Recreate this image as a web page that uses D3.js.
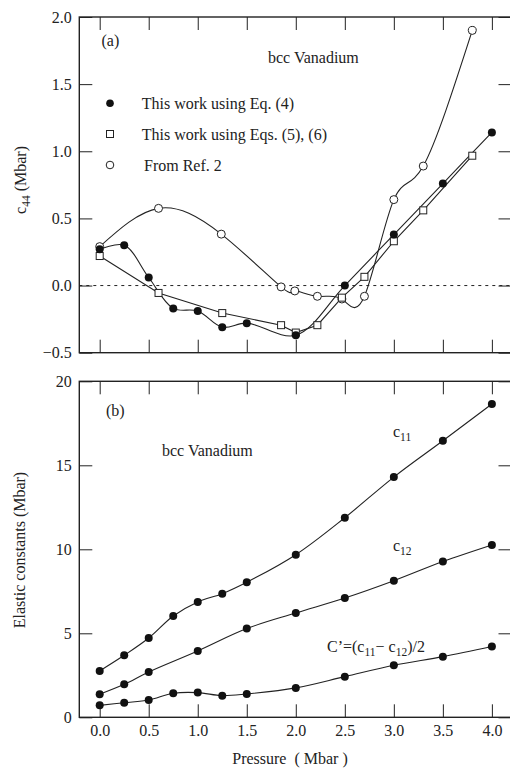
<!DOCTYPE html>
<html>
<head>
<meta charset="utf-8">
<script src="https://cdn.jsdelivr.net/npm/d3@7"></script>
<style>
  body { margin:0; background:#fff; }
  text { font-family:"Liberation Serif","Times New Roman",serif; fill:#222; }
</style>
</head>
<body>
<svg id="chart"></svg>
<script>
/*************** data *****************/
// panel (a): c44 versus pressure
var pEq4   = [0, 0.25, 0.5, 0.75, 1.0, 1.25, 1.5, 2.0, 2.5, 3.0, 3.5, 4.0];
var c44Eq4 = [0.27, 0.30, 0.06, -0.17, -0.19, -0.31, -0.28, -0.37, 0.0, 0.38, 0.76, 1.14];

var pEq56   = [0, 0.6, 1.25, 1.85, 2.0, 2.22, 2.47, 2.70, 3.0, 3.30, 3.80];
var c44Eq56 = [0.22, -0.055, -0.205, -0.295, -0.35, -0.295, -0.09, 0.065, 0.33, 0.56, 0.967];

var pRef2   = [0, 0.6, 1.24, 1.85, 1.99, 2.22, 2.47, 2.70, 3.0, 3.30, 3.80];
var c44Ref2 = [0.29, 0.575, 0.383, -0.01, -0.04, -0.08, -0.10, -0.08, 0.64, 0.89, 1.90];

var legendLabels = ["This work using Eq. (4)", "This work using Eqs. (5), (6)", "From Ref. 2"];

// panel (b): elastic constants versus pressure
var pB     = [0, 0.25, 0.5, 0.75, 1.0, 1.25, 1.5, 2.0, 2.5, 3.0, 3.5, 4.0];
var c11    = [2.76, 3.69, 4.72, 6.03, 6.87, 7.36, 8.04, 9.68, 11.88, 14.3, 16.46, 18.65];
var pC12   = [0, 0.25, 0.5, 1.0, 1.5, 2.0, 2.5, 3.0, 3.5, 4.0];
var c12    = [1.37, 1.96, 2.70, 3.95, 5.28, 6.21, 7.10, 8.13, 9.27, 10.26];
var cPrime = [0.71, 0.87, 1.03, 1.43, 1.47, 1.29, 1.39, 1.75, 2.42, 3.10, 3.61, 4.21];

var xTicks  = [0, 0.5, 1.0, 1.5, 2.0, 2.5, 3.0, 3.5, 4.0];
var yTicksA = [-0.5, 0, 0.5, 1.0, 1.5, 2.0];
var yTicksB = [0, 5, 10, 15, 20];

/*************** settings *****************/
var width = 510, height = 769,
    left = 79.3, right = 511.5,
    topA = 17, bottomA = 352.7,
    topB = 381.3, bottomB = 717.3,
    tickLen = 13;

var svg = d3.select("#chart").attr("width", width).attr("height", height);

var x = d3.scaleLinear().domain([-0.208, 4.2]).range([left, right]);
var yA = d3.scaleLinear().domain([-0.5, 2.0]).range([bottomA, topA]);
var yB = d3.scaleLinear().domain([0, 20]).range([bottomB, topB]);

function zip(xs, ys) { return xs.map(function(d, i) { return [d, ys[i]]; }); }

/*************** frames and axes *****************/
function frame(y, y0, y1, yTicks, yFmt, showX) {
  var g = svg.append("g");
  g.append("rect")
    .attr("x", left).attr("y", y1)
    .attr("width", right - left).attr("height", y0 - y1)
    .attr("fill", "none").attr("stroke", "#222").attr("stroke-width", 1.4);

  g.append("g").attr("transform", "translate(0," + y0 + ")")
    .call(d3.axisBottom(x).tickValues(xTicks).tickSizeInner(-tickLen).tickSizeOuter(0)
      .tickPadding(7).tickFormat(showX ? d3.format(".1f") : ""));
  g.append("g").attr("transform", "translate(0," + y1 + ")")
    .call(d3.axisTop(x).tickValues(xTicks).tickSizeInner(-tickLen).tickSizeOuter(0).tickFormat(""));
  g.append("g").attr("transform", "translate(" + left + ",0)")
    .call(d3.axisLeft(y).tickValues(yTicks).tickSizeInner(-tickLen).tickSizeOuter(0)
      .tickPadding(7.5).tickFormat(yFmt));
  g.append("g").attr("transform", "translate(" + right + ",0)")
    .call(d3.axisRight(y).tickValues(yTicks).tickSizeInner(-tickLen).tickSizeOuter(0).tickFormat(""));

  g.selectAll(".domain").remove();
  g.selectAll(".tick line").attr("stroke", "#222").attr("stroke-width", 1);
  g.selectAll(".tick text").attr("font-size", 16).attr("font-family", "Liberation Serif").attr("fill", "#222");
  return g;
}

frame(yA, bottomA, topA, yTicksA, d3.format(".1f"), false);
frame(yB, bottomB, topB, yTicksB, d3.format("d"), true);

/*************** panel (a) *****************/
var gA = svg.append("g");

gA.append("line")
  .attr("x1", left).attr("x2", right)
  .attr("y1", yA(0)).attr("y2", yA(0))
  .attr("stroke", "#222").attr("stroke-width", 1).attr("stroke-dasharray", "3,4");

var lineA = function(curve) {
  return d3.line().x(function(d) { return x(d[0]); }).y(function(d) { return yA(d[1]); }).curve(curve);
};

gA.append("path").datum(zip(pRef2, c44Ref2))
  .attr("d", lineA(d3.curveNatural)).attr("fill", "none").attr("stroke", "#222").attr("stroke-width", 1.1);
gA.append("path").datum(zip(pEq56, c44Eq56))
  .attr("d", lineA(d3.curveLinear)).attr("fill", "none").attr("stroke", "#222").attr("stroke-width", 1.1);
gA.append("path").datum(zip(pEq4, c44Eq4))
  .attr("d", lineA(d3.curveCatmullRom)).attr("fill", "none").attr("stroke", "#222").attr("stroke-width", 1.1);

gA.selectAll("circle.ref").data(zip(pRef2, c44Ref2)).enter().append("circle")
  .attr("cx", function(d) { return x(d[0]); }).attr("cy", function(d) { return yA(d[1]); })
  .attr("r", 4).attr("fill", "#fff").attr("stroke", "#222").attr("stroke-width", 1);
gA.selectAll("rect.sq").data(zip(pEq56, c44Eq56)).enter().append("rect")
  .attr("x", function(d) { return x(d[0]) - 3.5; }).attr("y", function(d) { return yA(d[1]) - 3.5; })
  .attr("width", 7).attr("height", 7).attr("fill", "#fff").attr("stroke", "#222").attr("stroke-width", 1);
gA.selectAll("circle.eq4").data(zip(pEq4, c44Eq4)).enter().append("circle")
  .attr("cx", function(d) { return x(d[0]); }).attr("cy", function(d) { return yA(d[1]); })
  .attr("r", 4).attr("fill", "#111");

// legend
var legY = [103.3, 134, 165];
var legend = gA.append("g");
legend.append("circle").attr("cx", 110).attr("cy", legY[0]).attr("r", 3.8).attr("fill", "#111");
legend.append("rect").attr("x", 106.5).attr("y", legY[1] - 3.5).attr("width", 7).attr("height", 7)
  .attr("fill", "#fff").attr("stroke", "#222");
legend.append("circle").attr("cx", 110).attr("cy", legY[2]).attr("r", 3.8)
  .attr("fill", "#fff").attr("stroke", "#222");
legend.selectAll("text").data(legendLabels).enter().append("text")
  .attr("x", function(d, i) { return i == 2 ? 144 : 141.7; })
  .attr("y", function(d, i) { return legY[i] + 5.5; })
  .attr("font-size", 16).text(function(d) { return d; });

gA.append("text").attr("x", 101.5).attr("y", 45.5).attr("font-size", 16).text("(a)");
gA.append("text").attr("x", 268).attr("y", 62.5).attr("font-size", 16).text("bcc Vanadium");

/*************** panel (b) *****************/
var gB = svg.append("g");
var lineB = d3.line().x(function(d) { return x(d[0]); }).y(function(d) { return yB(d[1]); })
  .curve(d3.curveCatmullRom);

[zip(pB, c11), zip(pC12, c12), zip(pB, cPrime)].forEach(function(series) {
  gB.append("path").datum(series).attr("d", lineB)
    .attr("fill", "none").attr("stroke", "#222").attr("stroke-width", 1.1);
  gB.append("g").selectAll("circle").data(series).enter().append("circle")
    .attr("cx", function(d) { return x(d[0]); }).attr("cy", function(d) { return yB(d[1]); })
    .attr("r", 4).attr("fill", "#111");
});

gB.append("text").attr("x", 106).attr("y", 416).attr("font-size", 16).text("(b)");
gB.append("text").attr("x", 162).attr("y", 455.5).attr("font-size", 16).text("bcc Vanadium");

function subLabel(g, xPos, yPos, parts) {
  var t = g.append("text").attr("x", xPos).attr("y", yPos).attr("font-size", 16);
  parts.forEach(function(p) {
    t.append("tspan").attr("font-size", p.sub ? 11.5 : 16)
      .attr("dy", p.sub ? 4 : (p.back ? -4 : 0)).text(p.t);
  });
  return t;
}
subLabel(gB, 393, 437, [{t:"c"}, {t:"11", sub:true}]);
subLabel(gB, 393, 551, [{t:"c"}, {t:"12", sub:true}]);
subLabel(gB, 327, 652, [{t:"C\u2019=(c"}, {t:"11", sub:true}, {t:"\u2212 c", back:true},
  {t:"12", sub:true}, {t:")/2", back:true}]);

/*************** axis titles *****************/
var yl = svg.append("text").attr("transform", "translate(26,180) rotate(-90)")
  .attr("text-anchor", "middle").attr("font-size", 16);
yl.append("tspan").text("c");
yl.append("tspan").attr("font-size", 11.5).attr("dy", 4).text("44");
yl.append("tspan").attr("dy", -4).text(" (Mbar)");

svg.append("text").attr("transform", "translate(25,550) rotate(-90)")
  .attr("text-anchor", "middle").attr("font-size", 16).text("Elastic constants (Mbar)");

svg.append("text").attr("x", 290).attr("y", 763.5).attr("text-anchor", "middle")
  .attr("font-size", 16).attr("xml:space", "preserve").text("Pressure  ( Mbar )");
</script>
</body>
</html>
